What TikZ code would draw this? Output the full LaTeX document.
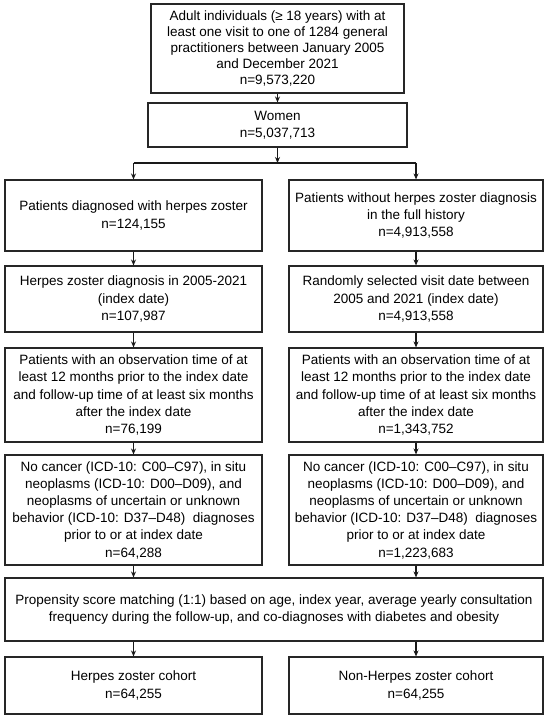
\documentclass[tikz,border=0pt]{standalone}
\usepackage{fontspec}
\setmainfont{Liberation Sans}
\usetikzlibrary{arrows.meta}
\begin{document}
\begin{tikzpicture}[x=1pt,y=-1pt,
  box/.style={draw=black!85, line width=1.1pt, align=center, inner sep=0pt,
    font=\fontsize{13.5}{17.2}\selectfont, text=black},
  conn/.style={line width=1.2pt, draw=black!90},
  arr/.style={conn, -{Stealth[length=6pt,width=5pt]}}]
\useasboundingbox (0,0) rectangle (550,719);

\node[box, minimum width=253, minimum height=89, font=\fontsize{13.5}{16.2}\selectfont] (top) at (277.5,48.5)
  {Adult individuals (≥ 18 years) with at\\least one visit to one of 1284 general\\practitioners between January 2005\\and December 2021\\n=9,573,220};
\node[box, minimum width=259, minimum height=44] (women) at (277.5,125)
  {Women\\n=5,037,713};

\node[box, minimum width=257, minimum height=71] (L1) at (133.5,215.5)
  {Patients diagnosed with herpes zoster\\n=124,155};
\node[box, minimum width=254, minimum height=71] (R1) at (416,215.5)
  {Patients without herpes zoster diagnosis\\in the full history\\n=4,913,558};

\node[box, minimum width=257, minimum height=66] (L2) at (133.5,299)
  {Herpes zoster diagnosis in 2005-2021\\(index date)\\n=107,987};
\node[box, minimum width=254, minimum height=66] (R2) at (416,299)
  {Randomly selected visit date between\\2005 and 2021 (index date)\\n=4,913,558};

\node[box, minimum width=257, minimum height=94] (L3) at (133.5,395)
  {Patients with an observation time of at\\least 12 months prior to the index date\\and follow-up time of at least six months\\after the index date\\n=76,199};
\node[box, minimum width=254, minimum height=94] (R3) at (416,395)
  {Patients with an observation time of at\\least 12 months prior to the index date\\and follow-up time of at least six months\\after the index date\\n=1,343,752};

\node[box, minimum width=257, minimum height=110] (L4) at (133.5,510)
  {No cancer (ICD-10: C00–C97), in situ\\neoplasms (ICD-10: D00–D09), and\\neoplasms of uncertain or unknown\\behavior (ICD-10: D37–D48)\ \ diagnoses\\prior to or at index date\\n=64,288};
\node[box, minimum width=254, minimum height=110] (R4) at (416,510)
  {No cancer (ICD-10: C00–C97), in situ\\neoplasms (ICD-10: D00–D09), and\\neoplasms of uncertain or unknown\\behavior (ICD-10: D37–D48)\ \ diagnoses\\prior to or at index date\\n=1,223,683};

\node[box, minimum width=538, minimum height=63] (prop) at (274,609.5)
  {Propensity score matching (1:1) based on age, index year, average yearly consultation\\frequency during the follow-up, and co-diagnoses with diabetes and obesity};

\node[box, minimum width=257, minimum height=57] (L5) at (133.5,685.5)
  {Herpes zoster cohort\\n=64,255};
\node[box, minimum width=254, minimum height=57] (R5) at (416,685.5)
  {Non-Herpes zoster cohort\\n=64,255};

\coordinate (split) at (277.5,163);
\draw[arr] (top.south) -- (women.north);
\draw[arr] (women.south) -- (split);
\draw[conn] (L1.north |- split) -- (R1.north |- split);
\draw[arr] (L1.north |- split) -- (L1.north);
\draw[arr] (R1.north |- split) -- (R1.north);
\draw[arr] (L1.south) -- (L2.north);
\draw[arr] (R1.south) -- (R2.north);
\draw[arr] (L2.south) -- (L3.north);
\draw[arr] (R2.south) -- (R3.north);
\draw[arr] (L3.south) -- (L4.north);
\draw[arr] (R3.south) -- (R4.north);
\draw[arr] (L4.south) -- (L4.south |- prop.north);
\draw[arr] (R4.south) -- (R4.south |- prop.north);
\draw[arr] (L5.north |- prop.south) -- (L5.north);
\draw[arr] (R5.north |- prop.south) -- (R5.north);
\end{tikzpicture}
\end{document}
